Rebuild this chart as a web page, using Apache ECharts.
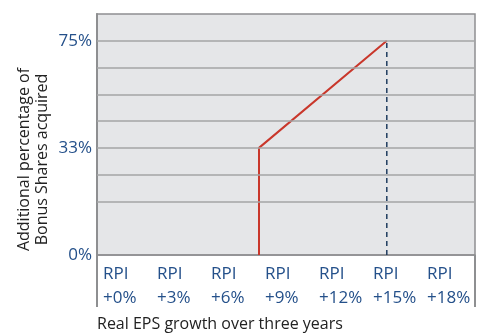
<!DOCTYPE html>
<html>
<head>
<meta charset="utf-8">
<script src="https://cdn.jsdelivr.net/npm/echarts@6/dist/echarts.min.js"></script>
<style>
  html, body { margin: 0; padding: 0; background: #fff; }
  #main { width: 477px; height: 336px; }
</style>
</head>
<body>
<div id="main"></div>
<script>
// x axis: RPI steps (value units), y axis: grid rows (0..9)
var xTickValues = [0, 3, 6, 9, 12, 15, 18];
var xTickLabels = ['RPI\n+0%', 'RPI\n+3%', 'RPI\n+6%', 'RPI\n+9%', 'RPI\n+12%', 'RPI\n+15%', 'RPI\n+18%'];
var yTickValues = [0, 4, 8];
var yTickLabels = ['0%', '33%', '75%'];
var gridRows = [2, 3, 4, 5, 6, 7, 8];

// vesting line and the dashed drop line
var vestingLine = [[9, 0], [9, 4], [16.1, 8]];
var dropLine = [[16.1, 0], [16.1, 8]];

var blue = '#24508a';
var lineGrey = '#a3a4a6';

var chart = echarts.init(document.getElementById('main'));

var option = {
  animation: false,
  textStyle: { fontFamily: 'Open Sans' },

  title: {
    text: 'Real EPS growth over three years',
    left: 92,
    top: 311,
    textStyle: { fontSize: 16, fontWeight: 'normal', color: '#222', fontFamily: 'Open Sans' }
  },

  grid: {
    left: 97,
    right: 2,
    top: 14,
    bottom: 81,
    show: true,
    backgroundColor: '#e5e6e8',
    borderColor: '#8e8f91',
    borderWidth: 1.5
  },

  xAxis: {
    type: 'value',
    min: 0,
    max: 21,
    interval: 3,
    axisLine: { show: true, lineStyle: { color: '#8e8f91', width: 1.5 } },
    axisTick: {
      show: true,
      customValues: [0, 21],
      length: 52,
      lineStyle: { color: '#8e8f91', width: 2 }
    },
    splitLine: { show: false },
    axisLabel: {
      customValues: xTickValues,
      formatter: function (v) {
        var i = xTickValues.indexOf(v);
        return i >= 0 ? xTickLabels[i] : '';
      },
      align: 'left',
      padding: [0, 0, 0, 6],
      margin: 7,
      lineHeight: 24,
      fontSize: 17,
      color: blue
    }
  },

  yAxis: {
    type: 'value',
    min: 0,
    max: 9,
    interval: 1,
    name: 'Additional percentage of\nBonus Shares acquired',
    nameLocation: 'middle',
    nameRotate: 90,
    nameGap: 46,
    nameMoveOverlap: false,
    nameTextStyle: { fontSize: 16, color: '#222', lineHeight: 18, padding: [0, 50, 0, 0] },
    axisLine: { show: true, lineStyle: { color: '#8e8f91', width: 2 } },
    axisTick: { show: false },
    splitLine: { show: false },
    axisLabel: {
      customValues: yTickValues,
      formatter: function (v) {
        var i = yTickValues.indexOf(v);
        return i >= 0 ? yTickLabels[i] : '';
      },
      margin: 5,
      fontSize: 17,
      color: blue
    }
  },

  series: [
    {
      // horizontal grid rows
      type: 'line',
      data: [],
      silent: true,
      markLine: {
        silent: true,
        symbol: 'none',
        label: { show: false },
        lineStyle: { color: lineGrey, width: 1.5, type: 'solid' },
        data: gridRows.map(function (r) { return { yAxis: r }; })
      }
    },
    {
      type: 'line',
      data: dropLine,
      symbol: 'none',
      lineStyle: { color: '#1f3b5e', width: 1.5, type: [5, 4] }
    },
    {
      type: 'line',
      data: vestingLine,
      symbol: 'none',
      lineStyle: { color: '#c9372b', width: 2 }
    }
  ]
};

chart.setOption(option);
</script>
</body>
</html>
